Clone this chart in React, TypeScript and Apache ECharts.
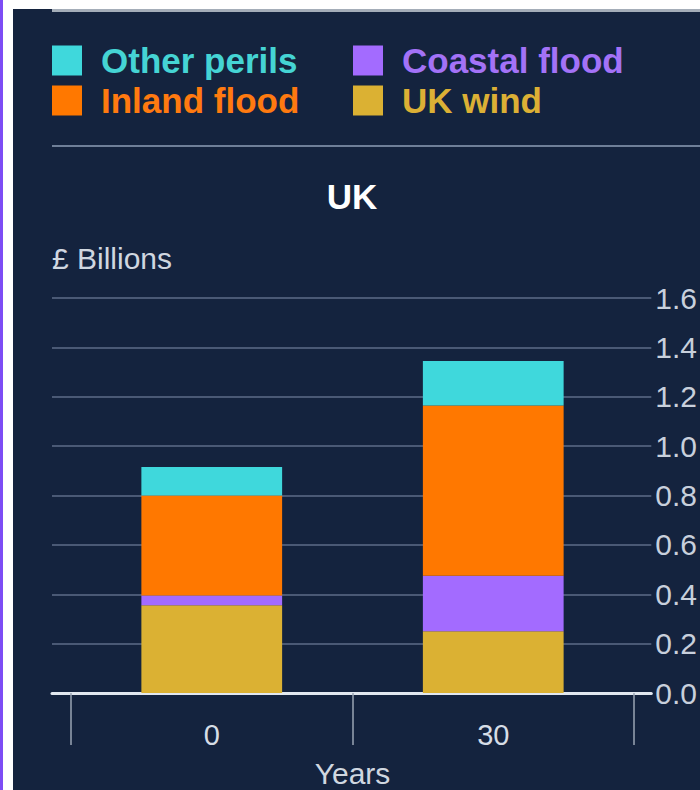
import React, { useEffect, useRef } from "react";
import * as echarts from "echarts";

const categories = ["0", "30"];
const ukWind = [0.355, 0.25];
const coastalFlood = [0.04, 0.225];
const inlandFlood = [0.405, 0.69];
const otherPerils = [0.115, 0.18];
const yTicks = { min: 0, max: 1.6, interval: 0.2 };

const COLORS = {
  other: "#3fd8dc",
  inland: "#ff7800",
  coastal: "#a36bff",
  wind: "#dbb133",
};

export default function App() {
  const ref = useRef<HTMLDivElement>(null);
  useEffect(() => {
    if (!ref.current) return;
    const chart = echarts.init(ref.current, undefined, { renderer: "svg" });
    const legendText = {
      fontFamily: "Liberation Sans, Arial, sans-serif",
      fontSize: 35,
      fontWeight: "bold" as const,
      padding: [0, 0, 0, 14],
    };
    const series = [
      { name: "UK wind", data: ukWind, color: COLORS.wind },
      { name: "Coastal flood", data: coastalFlood, color: COLORS.coastal },
      { name: "Inland flood", data: inlandFlood, color: COLORS.inland },
      { name: "Other perils", data: otherPerils, color: COLORS.other },
    ].map((s) => ({
      type: "bar" as const,
      name: s.name,
      data: s.data,
      stack: "total",
      xAxisIndex: 1,
      yAxisIndex: 1,
      barWidth: "50%",
      itemStyle: { color: s.color },
      emphasis: { disabled: true },
    }));
    const legendBase = {
      top: 38,
      orient: "vertical" as const,
      itemWidth: 30,
      itemHeight: 30,
      itemGap: 5,
      icon: "rect",
      selectedMode: false,
      textStyle: legendText,
    };
    chart.setOption({
      animation: false,
      backgroundColor: "#ffffff",
      textStyle: { fontFamily: "Liberation Sans, Arial, sans-serif" },
      graphic: [
        { type: "rect", z: -10, shape: { x: 0, y: 0, width: 3, height: 790 }, style: { fill: "#7d4cf5" } },
        { type: "rect", z: -10, shape: { x: 13, y: 9, width: 687, height: 781 }, style: { fill: "#14233e" } },
        { type: "rect", z: -5, shape: { x: 52, y: 9, width: 648, height: 3 }, style: { fill: "#a4adb8" } },
        { type: "rect", z: -5, shape: { x: 52, y: 145, width: 648, height: 2 }, style: { fill: "#6f7f98" } },
        {
          type: "text",
          x: 352,
          y: 196,
          style: {
            text: "UK",
            fill: "#ffffff",
            font: "bold 35px 'Liberation Sans', Arial, sans-serif",
            textAlign: "center",
            textVerticalAlign: "middle",
          },
        },
        {
          type: "text",
          x: 52,
          y: 258,
          style: {
            text: "£ Billions",
            fill: "#d0d7e0",
            font: "30px 'Liberation Sans', Arial, sans-serif",
            textAlign: "left",
            textVerticalAlign: "middle",
          },
        },
      ],
      legend: [
        {
          ...legendBase,
          left: 47,
          data: [
            { name: "Other perils", textStyle: { color: "#45d4d4" } },
            { name: "Inland flood", textStyle: { color: "#ff7a10" } },
          ],
        },
        {
          ...legendBase,
          left: 348,
          data: [
            { name: "Coastal flood", textStyle: { color: "#a372f7" } },
            { name: "UK wind", textStyle: { color: "#dcb035" } },
          ],
        },
      ],
      grid: [
        { left: 52, right: 48, top: 298, bottom: 97 },
        { left: 71, right: 66, top: 298, bottom: 97 },
      ],
      xAxis: [
        {
          gridIndex: 0,
          type: "category",
          data: categories,
          axisLine: { show: true, lineStyle: { color: "#e2e8f0", width: 3 } },
          axisTick: { show: false },
          axisLabel: { show: false },
          splitLine: { show: false },
        },
        {
          gridIndex: 1,
          type: "category",
          data: categories,
          axisLine: { show: false },
          axisTick: { show: true, length: 52, lineStyle: { color: "#9aa6b5", width: 1.5 } },
          axisLabel: { color: "#d6dde6", fontSize: 29, margin: 27 },
          splitLine: { show: false },
          name: "Years",
          nameLocation: "middle",
          nameGap: 65,
          nameTextStyle: { color: "#d0d7e0", fontSize: 30 },
        },
      ],
      yAxis: [
        {
          gridIndex: 0,
          type: "value",
          position: "right",
          min: yTicks.min,
          max: yTicks.max,
          interval: yTicks.interval,
          axisLine: { show: false },
          axisTick: { show: false },
          axisLabel: {
            color: "#c8d0dc",
            fontSize: 30,
            margin: 4,
            formatter: (v: number) => v.toFixed(1),
          },
          splitLine: { show: true, lineStyle: { color: "#5d6d88", width: 1.5 } },
        },
        {
          gridIndex: 1,
          type: "value",
          min: yTicks.min,
          max: yTicks.max,
          interval: yTicks.interval,
          show: false,
        },
      ],
      series,
    });
    return () => chart.dispose();
  }, []);
  return (
    <div
      ref={ref}
      style={{ position: "fixed", left: 0, top: 0, width: 700, height: 790 }}
    />
  );
}
